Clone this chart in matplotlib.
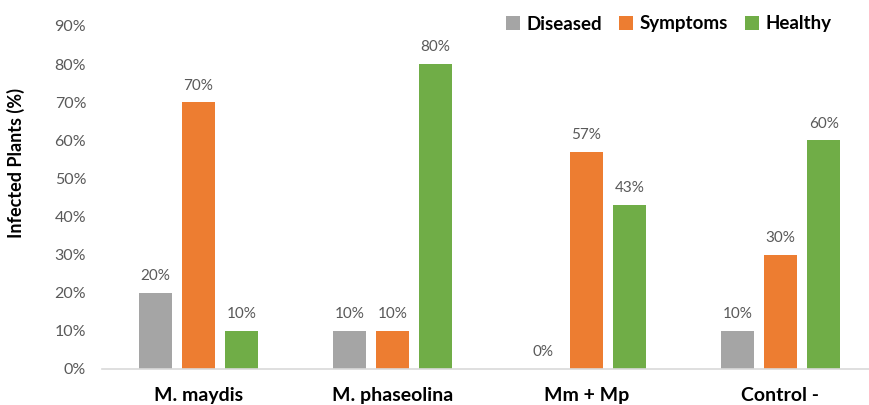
import matplotlib.pyplot as plt
import numpy as np

plt.rcParams['font.family'] = ['Lato', 'DejaVu Sans']

groups = ['M. maydis', 'M. phaseolina', 'Mm + Mp', 'Control -']
series = ['Diseased', 'Symptoms', 'Healthy']
diseased = [0.20, 0.10, 0.00, 0.10]
symptoms = [0.70, 0.10, 0.57, 0.30]
healthy = [0.10, 0.80, 0.43, 0.60]
colors = ['#A5A5A5', '#ED7D31', '#70AD47']

W, H = 869, 405
fig = plt.figure(figsize=(W / 100, H / 100), dpi=100)
# plot area in pixels: left, bottom, width, height
ax = fig.add_axes([101.5 / W, 36 / H, 776 / W, 343 / H])

x = np.arange(len(groups))
width = 0.17
offsets = [-0.222, 0.0, 0.222]
for vals, name, col, off in zip([diseased, symptoms, healthy], series, colors, offsets):
    bars = ax.bar(x + off, vals, width, color=col, label=name)
    for b, v in zip(bars, vals):
        ax.annotate(f'{v:.0%}', (b.get_x() + b.get_width() / 2, v),
                    xytext=(0, 7), textcoords='offset points',
                    ha='center', va='bottom', fontsize=11, color='#595959')

ax.set_xlim(-0.5, len(groups) - 0.5)
ax.set_ylim(0, 0.9)
ax.set_yticks(np.arange(0, 0.91, 0.1))
ax.set_yticklabels([f'{t:.0f}%' for t in np.arange(0, 91, 10)])
ax.set_xticks(x)
ax.set_xticklabels(groups, fontsize=14, fontweight='bold')
ax.tick_params(axis='y', length=0, labelsize=11.5, labelcolor='#595959', pad=11)
ax.tick_params(axis='x', length=0, pad=13)

for s in ['top', 'right', 'left']:
    ax.spines[s].set_visible(False)
ax.spines['bottom'].set_color('#D9D9D9')
ax.spines['bottom'].set_linewidth(1.2)

ax.set_ylabel('Infected Plants (%)', fontsize=13, fontweight='bold')
ax.yaxis.set_label_coords(-0.098, 0.6)

ax.legend(loc='center left', bbox_to_anchor=(506 / W, 1 - 24 / H), bbox_transform=fig.transFigure,
          ncol=3, frameon=False, borderaxespad=0, borderpad=0,
          prop={'weight': 'bold', 'size': 13.5}, handlelength=0.75, handleheight=0.75,
          handletextpad=0.35, columnspacing=0.9)

fig.savefig('out.png', dpi=100)
